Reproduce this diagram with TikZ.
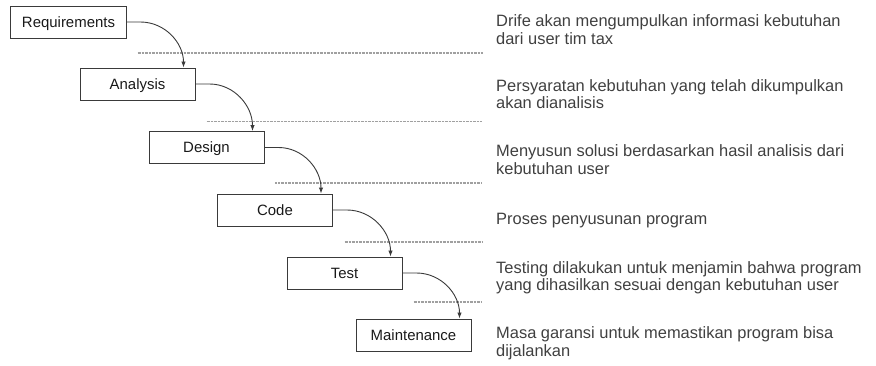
\documentclass[tikz,border=0pt]{standalone}
\usepackage{fontspec}
\setmainfont{Liberation Sans}
\usetikzlibrary{arrows.meta}
\definecolor{PhaseInk}{HTML}{3A3A3A}
\definecolor{PhaseNote}{HTML}{404040}
\definecolor{PhaseRule}{HTML}{A0A0A0}

\begin{document}
\begin{tikzpicture}[
	x=1bp, y=1bp,
	phase/.style={draw=PhaseInk, line width=1bp, minimum width=115bp, minimum height=32bp, inner sep=0pt, text height=10.7bp, text depth=0.6bp, font=\fontsize{15}{16}\selectfont, text=black!90},
	note/.style={anchor=base west, align=left, inner sep=0pt, font=\fontsize{16.5}{17.5}\selectfont, text=PhaseNote},
	flow/.style={-{Latex[length=6bp,width=4.5bp]}, draw=PhaseInk, line width=0.9bp},
	rule/.style={draw=PhaseRule, line width=1.3bp, dash pattern=on 0.7bp off 0.7bp}
]
\useasboundingbox (0,0) rectangle (876,-365);

\node[phase] (req) at (68.5,-22) {Requirements};
\node[phase] (ana) at (137.5,-84) {Analysis};
\node[phase] (des) at (206.5,-147.5) {Design};
\node[phase] (code) at (275,-210) {Code};
\node[phase] (test) at (344.5,-273) {Test};
\node[phase] (maint) at (413.5,-335) {Maintenance};

% separators between the phases
\draw[rule] (ana.north |- 0,-53) -- (482,-53);
\draw[rule] (des.north |- 0,-121.5) -- (482,-121.5);
\draw[rule] (code.north |- 0,-183) -- (482,-183);
\draw[rule] (test.north |- 0,-242) -- (482,-242);
\draw[rule] (maint.north |- 0,-302) -- (482,-302);

\draw[flow] (req.east) -- ++(14,0) to[out=0,in=90] ([xshift=-12bp]ana.north east);
\draw[flow] (ana.east) -- ++(14,0) to[out=0,in=90] ([xshift=-12bp]des.north east);
\draw[flow] (des.east) -- ++(14,0) to[out=0,in=90] ([xshift=-12bp]code.north east);
\draw[flow] (code.east) -- ++(14,0) to[out=0,in=90] ([xshift=-12bp]test.north east);
\draw[flow] (test.east) -- ++(14,0) to[out=0,in=90] ([xshift=-12bp]maint.north east);

% notes sit on the baseline of their last line
\node[note] (reqnote) at (496,-44) {Drife akan mengumpulkan informasi kebutuhan\\dari user tim tax};
\node[note] (ananote) at (496,-108.5) {Persyaratan kebutuhan yang telah dikumpulkan\\akan dianalisis};
\node[note] (desnote) at (496,-174) {Menyusun solusi berdasarkan hasil analisis dari\\kebutuhan user};
\node[note] (codenote) at (496,-224) {Proses penyusunan program};
\node[note] (testnote) at (496,-290.5) {Testing dilakukan untuk menjamin bahwa program\\yang dihasilkan sesuai dengan kebutuhan user};
\node[note] (maintnote) at (496,-356) {Masa garansi untuk memastikan program bisa\\dijalankan};
\end{tikzpicture}
\end{document}
